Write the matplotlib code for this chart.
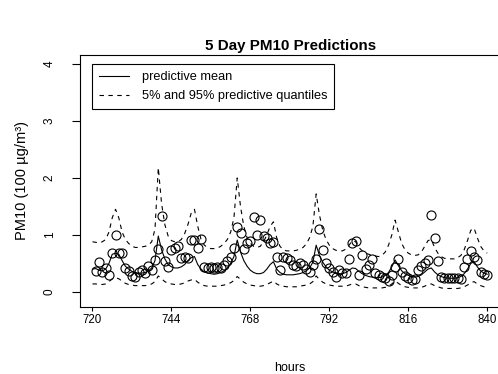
import numpy as np
import matplotlib
matplotlib.use("Agg")
import matplotlib.pyplot as plt

plt.rcParams['font.family'] = ['Liberation Sans', 'DejaVu Sans']

# data
line_hours = list(range(720, 841))
obs_hours = list(range(721, 841))

pred_mean = [
    0.40, 0.41, 0.38, 0.37, 0.40, 0.50, 0.66, 0.68, 0.66, 0.55,
    0.45, 0.40, 0.36, 0.34, 0.33, 0.33, 0.34, 0.37, 0.42, 0.55,
    0.98, 0.74, 0.58, 0.48, 0.44, 0.42, 0.42, 0.44, 0.48, 0.55,
    0.60, 0.62, 0.48, 0.40, 0.35, 0.33, 0.32, 0.31, 0.32, 0.34,
    0.37, 0.42, 0.50, 0.62, 0.91, 0.70, 0.55, 0.45, 0.38, 0.34,
    0.32, 0.32, 0.34, 0.40, 0.48, 0.53, 0.40, 0.34, 0.31, 0.30,
    0.30, 0.30, 0.31, 0.32, 0.34, 0.37, 0.42, 0.52, 0.82, 0.64,
    0.52, 0.44, 0.38, 0.35, 0.33, 0.32, 0.32, 0.34, 0.38, 0.42,
    0.41, 0.36, 0.32, 0.29, 0.27, 0.26, 0.25, 0.25, 0.26, 0.29,
    0.34, 0.44, 0.56, 0.46, 0.37, 0.32, 0.29, 0.27, 0.26, 0.27,
    0.30, 0.35, 0.40, 0.42, 0.35, 0.30, 0.27, 0.25, 0.24, 0.24,
    0.24, 0.25, 0.27, 0.32, 0.40, 0.50, 0.53, 0.44, 0.37, 0.33,
    0.31]

q95 = [
    0.88, 0.87, 0.86, 0.88, 0.92, 1.05, 1.30, 1.45, 1.30, 1.05,
    0.92, 0.85, 0.80, 0.78, 0.78, 0.79, 0.80, 0.82, 0.88, 1.10,
    2.18, 1.55, 1.18, 0.98, 0.90, 0.88, 0.88, 0.92, 1.02, 1.18,
    1.38, 1.45, 1.15, 0.92, 0.82, 0.78, 0.76, 0.76, 0.77, 0.80,
    0.85, 0.92, 1.05, 1.30, 2.00, 1.50, 1.15, 0.95, 0.85, 0.80,
    0.78, 0.80, 0.88, 1.00, 1.15, 1.23, 0.95, 0.80, 0.74, 0.72,
    0.72, 0.72, 0.73, 0.75, 0.78, 0.84, 0.95, 1.15, 1.72, 1.35,
    1.08, 0.92, 0.82, 0.76, 0.73, 0.72, 0.72, 0.75, 0.82, 0.90,
    0.88, 0.78, 0.72, 0.68, 0.66, 0.64, 0.63, 0.62, 0.64, 0.70,
    0.82, 1.00, 1.26, 1.05, 0.85, 0.74, 0.68, 0.65, 0.64, 0.65,
    0.70, 0.80, 0.90, 0.92, 0.78, 0.68, 0.62, 0.59, 0.58, 0.58,
    0.58, 0.60, 0.64, 0.74, 0.90, 1.08, 1.12, 0.95, 0.80, 0.72,
    0.68]

q05 = [
    0.14, 0.14, 0.13, 0.13, 0.14, 0.18, 0.23, 0.25, 0.23, 0.19,
    0.15, 0.13, 0.12, 0.11, 0.11, 0.11, 0.11, 0.12, 0.14, 0.18,
    0.28, 0.23, 0.18, 0.15, 0.14, 0.13, 0.13, 0.14, 0.16, 0.19,
    0.21, 0.22, 0.17, 0.13, 0.11, 0.10, 0.10, 0.10, 0.10, 0.11,
    0.12, 0.14, 0.16, 0.20, 0.27, 0.22, 0.17, 0.14, 0.12, 0.11,
    0.10, 0.10, 0.11, 0.13, 0.16, 0.19, 0.14, 0.11, 0.10, 0.09,
    0.09, 0.09, 0.09, 0.10, 0.11, 0.12, 0.14, 0.18, 0.28, 0.22,
    0.17, 0.14, 0.12, 0.11, 0.10, 0.10, 0.10, 0.10, 0.12, 0.14,
    0.14, 0.11, 0.09, 0.08, 0.07, 0.07, 0.07, 0.07, 0.07, 0.08,
    0.10, 0.14, 0.19, 0.15, 0.11, 0.09, 0.08, 0.07, 0.07, 0.07,
    0.08, 0.10, 0.13, 0.14, 0.11, 0.09, 0.07, 0.06, 0.06, 0.06,
    0.06, 0.06, 0.07, 0.09, 0.12, 0.16, 0.18, 0.14, 0.11, 0.09,
    0.08]

pm10_obs = [
    0.37, 0.53, 0.35, 0.42, 0.30, 0.68, 1.00, 0.68, 0.68, 0.42,
    0.37, 0.28, 0.26, 0.35, 0.39, 0.33, 0.46, 0.39, 0.56, 0.75,
    1.33, 0.55, 0.44, 0.74, 0.77, 0.80, 0.60, 0.61, 0.60, 0.91,
    0.91, 0.77, 0.93, 0.44, 0.42, 0.44, 0.42, 0.44, 0.42, 0.47,
    0.54, 0.61, 0.77, 1.14, 1.04, 0.75, 0.86, 0.89, 1.32, 1.00,
    1.26, 0.98, 0.95, 0.86, 0.88, 0.61, 0.39, 0.61, 0.60, 0.56,
    0.47, 0.46, 0.51, 0.47, 0.40, 0.35, 0.47, 0.58, 1.10, 0.74,
    0.51, 0.42, 0.35, 0.26, 0.39, 0.33, 0.33, 0.58, 0.86, 0.89,
    0.30, 0.65, 0.40, 0.47, 0.58, 0.33, 0.30, 0.26, 0.25, 0.19,
    0.30, 0.44, 0.58, 0.35, 0.28, 0.25, 0.21, 0.23, 0.39, 0.46,
    0.51, 0.56, 1.35, 0.95, 0.54, 0.27, 0.25, 0.24, 0.25, 0.24,
    0.25, 0.23, 0.44, 0.58, 0.72, 0.61, 0.56, 0.35, 0.32, 0.30]

xticks = [720, 744, 768, 792, 816, 840]
yticks = [0, 1, 2, 3, 4]

W, H = 498, 374
fig = plt.figure(figsize=(W / 100, H / 100), dpi=100)
ax = fig.add_axes([80 / W, (H - 307) / H, 423 / W, 252 / H])

ax.plot(obs_hours, pm10_obs, 'o', mfc='none', mec='black', ms=6.5, mew=0.8)
ax.plot(line_hours, pred_mean, '-', color='black', lw=0.8, label='predictive mean')
ax.plot(line_hours, q95, color='black', lw=0.8, ls=(0, (4, 4)),
        label='5% and 95% predictive quantiles')
ax.plot(line_hours, q05, color='black', lw=0.8, ls=(0, (4, 4)))

ax.set_xlim(716.2, 844.8)
ax.set_ylim(-0.265, 4.158)
ax.set_xticks(xticks)
ax.set_yticks(yticks)
ax.set_xticklabels([str(t) for t in xticks], fontsize=8.3)
ax.set_yticklabels([str(t) for t in yticks], fontsize=8.5, rotation=90, va='center')
ax.tick_params(axis='x', direction='out', length=3, width=0.8, pad=2)
ax.tick_params(axis='y', direction='out', length=5.5, width=0.8, pad=12)
for s in ax.spines.values():
    s.set_linewidth(0.8)

ax.set_ylabel('PM10 (100 µg/m³)', fontsize=10.5)
ax.yaxis.set_label_coords(-0.12, 0.5)
fig.text(290 / W, 1 - 368 / H, 'hours', ha='center', va='center', fontsize=9)
fig.text(291 / W, 1 - 46 / H, '5 Day PM10 Predictions', ha='center', va='center',
         fontsize=10.9, fontweight='bold')

leg = ax.legend(loc='upper left', bbox_to_anchor=(0.028, 0.964), borderaxespad=0,
                fontsize=9.2, fancybox=False, edgecolor='black', framealpha=1,
                handlelength=2.35, handletextpad=1.0, borderpad=0.55, labelspacing=0.57)
leg.get_frame().set_linewidth(0.8)

fig.savefig('out.png', dpi=100)
